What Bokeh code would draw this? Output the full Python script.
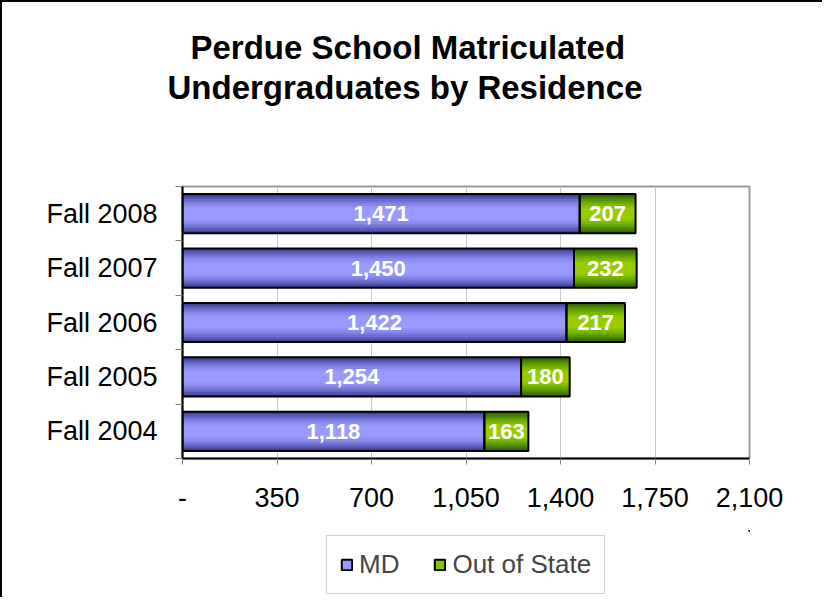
from bokeh.plotting import figure
from bokeh.models import (Range1d, FixedTicker, Legend, LegendItem, Title)
from bokeh.layouts import column
from bokeh.core.properties import value
from bokeh.embed import file_html
from bokeh.resources import INLINE

# ---- data ----
categories = ["Fall 2004", "Fall 2005", "Fall 2006", "Fall 2007", "Fall 2008"]
md_values = [1118, 1254, 1422, 1450, 1471]
oos_values = [163, 180, 217, 232, 207]
x_ticks = [0, 350, 700, 1050, 1400, 1750, 2100]
x_tick_labels = ["-", "350", "700", "1,050", "1,400", "1,750", "2,100"]
title_lines = ["Perdue School Matriculated", "Undergraduates by Residence"]
series_names = ["MD", "Out of State"]

FONT = "Liberation Sans"

ypos = [i + 0.5 for i in range(len(categories))]
oos_left = md_values
oos_right = [m + o for m, o in zip(md_values, oos_values)]
md_mid = [m / 2 for m in md_values]
oos_mid = [m + o / 2 for m, o in zip(md_values, oos_values)]
md_text = [f"{v:,}" for v in md_values]
oos_text = [f"{v:,}" for v in oos_values]

BORDER_L, BORDER_R = 180, 73

p = figure(
    width=820, height=528,
    min_border_left=BORDER_L, min_border_right=BORDER_R,
    min_border_top=184, min_border_bottom=72,
    x_range=Range1d(0, 2100), y_range=Range1d(0, 5),
    output_backend="svg", toolbar_location=None,
)
p.title = None
p.background_fill_color = "white"
p.border_fill_color = "white"
p.outline_line_color = "#999999"
p.outline_line_width = 2

# grid
p.ygrid.grid_line_color = None
p.xgrid.ticker = FixedTicker(ticks=x_ticks)
p.xgrid.grid_line_color = "#C8C8C8"
p.xgrid.grid_line_width = 1

# x axis
xa = p.xaxis[0]
xa.ticker = FixedTicker(ticks=x_ticks, minor_ticks=[])
xa.major_label_overrides = {t: l for t, l in zip(x_ticks, x_tick_labels)}
xa.axis_line_color = "black"
xa.axis_line_width = 2
xa.major_tick_line_color = "#808080"
xa.major_tick_in = 0
xa.major_tick_out = 6
xa.minor_tick_line_color = None
xa.major_label_text_font = FONT
xa.major_label_text_font_size = "27px"
xa.major_label_text_color = "black"
xa.major_label_standoff = 23

# y axis
ya = p.yaxis[0]
ya.ticker = FixedTicker(ticks=ypos, minor_ticks=list(range(len(categories) + 1)))
ya.major_label_overrides = {y: c for y, c in zip(ypos, categories)}
ya.axis_line_color = "black"
ya.axis_line_width = 2
ya.major_tick_line_color = None
ya.major_tick_in = 0
ya.major_tick_out = 0
ya.minor_tick_line_color = "#808080"
ya.minor_tick_in = 0
ya.minor_tick_out = 7
ya.major_label_text_font = FONT
ya.major_label_text_font_size = "27px"
ya.major_label_text_color = "black"
ya.major_label_standoff = 18

BAR_H = 0.72
fracs = [1.0, 0.88, 0.76, 0.64, 0.52, 0.40, 0.28]
purple = ["#404098", "#5656B4", "#6A6ACB", "#7B7BDD", "#8989EC", "#9393F7", "#9999FF"]
green = ["#336600", "#447D00", "#579400", "#68A800", "#79B800", "#89C400", "#99CC00"]

for f, cp, cg in zip(fracs, purple, green):
    p.hbar(y=ypos, left=0, right=md_values, height=BAR_H * f,
           fill_color=cp, line_color=None)
    p.hbar(y=ypos, left=oos_left, right=oos_right, height=BAR_H * f,
           fill_color=cg, line_color=None)

# outlines
p.hbar(y=ypos, left=0, right=md_values, height=BAR_H,
       fill_alpha=0, line_color="black", line_width=2)
p.hbar(y=ypos, left=oos_left, right=oos_right, height=BAR_H,
       fill_alpha=0, line_color="black", line_width=2)

# data labels
p.text(x=md_mid, y=ypos, text=md_text, text_color="white",
       text_font=value(FONT), text_font_style="bold", text_font_size="22px",
       text_align="center", text_baseline="middle")
p.text(x=oos_mid, y=ypos, text=oos_text, text_color="white",
       text_font=value(FONT), text_font_style="bold", text_font_size="22px",
       text_align="center", text_baseline="middle")

# spacer between the plot and the two-line title
p.add_layout(Title(text=" ", text_font_size="1px", standoff=77), "above")
# title (inner line first so that it sits nearest the plot)
title_offsets = [8, -15]
for line, off in reversed(list(zip(title_lines, title_offsets))):
    p.add_layout(Title(text=line, align="left", offset=off, standoff=1,
                       text_font=FONT, text_font_style="bold",
                       text_font_size="33px", text_color="black"), "above")

# ---- legend strip below the chart (same horizontal frame as the chart) ----
lg = figure(
    width=820, height=67,
    min_border_left=BORDER_L, min_border_right=BORDER_R,
    min_border_top=0, min_border_bottom=0,
    x_range=Range1d(-100000, -99999), y_range=Range1d(-100000, -99999),
    x_axis_location=None, y_axis_location=None,
    output_backend="svg", toolbar_location=None,
)
lg.title = None
lg.grid.visible = False
lg.outline_line_color = None
lg.background_fill_color = "white"
lg.border_fill_color = "white"
r_md = lg.hbar(y=ypos, left=0, right=md_values, height=BAR_H,
               fill_color="#9999FF", line_color="black", line_width=2)
r_oos = lg.hbar(y=ypos, left=oos_left, right=oos_right, height=BAR_H,
                fill_color="#88C400", line_color="black", line_width=2)
legend = Legend(
    items=[LegendItem(label=series_names[0], renderers=[r_md]),
           LegendItem(label=series_names[1], renderers=[r_oos])],
    orientation="horizontal",
    location=(144, 3),
    label_text_font=FONT, label_text_font_size="26px",
    glyph_width=13, glyph_height=13, label_standoff=6, spacing=34,
    padding=13, margin=0,
    border_line_color="#AAAAAA", border_line_width=1,
    background_fill_color="white", background_fill_alpha=1,
)
lg.add_layout(legend)

layout = column(p, lg, spacing=0)
layout.styles = {"border-left": "2px solid black", "border-top": "2px solid black"}

open("out.html", "w").write(file_html(layout, INLINE))
